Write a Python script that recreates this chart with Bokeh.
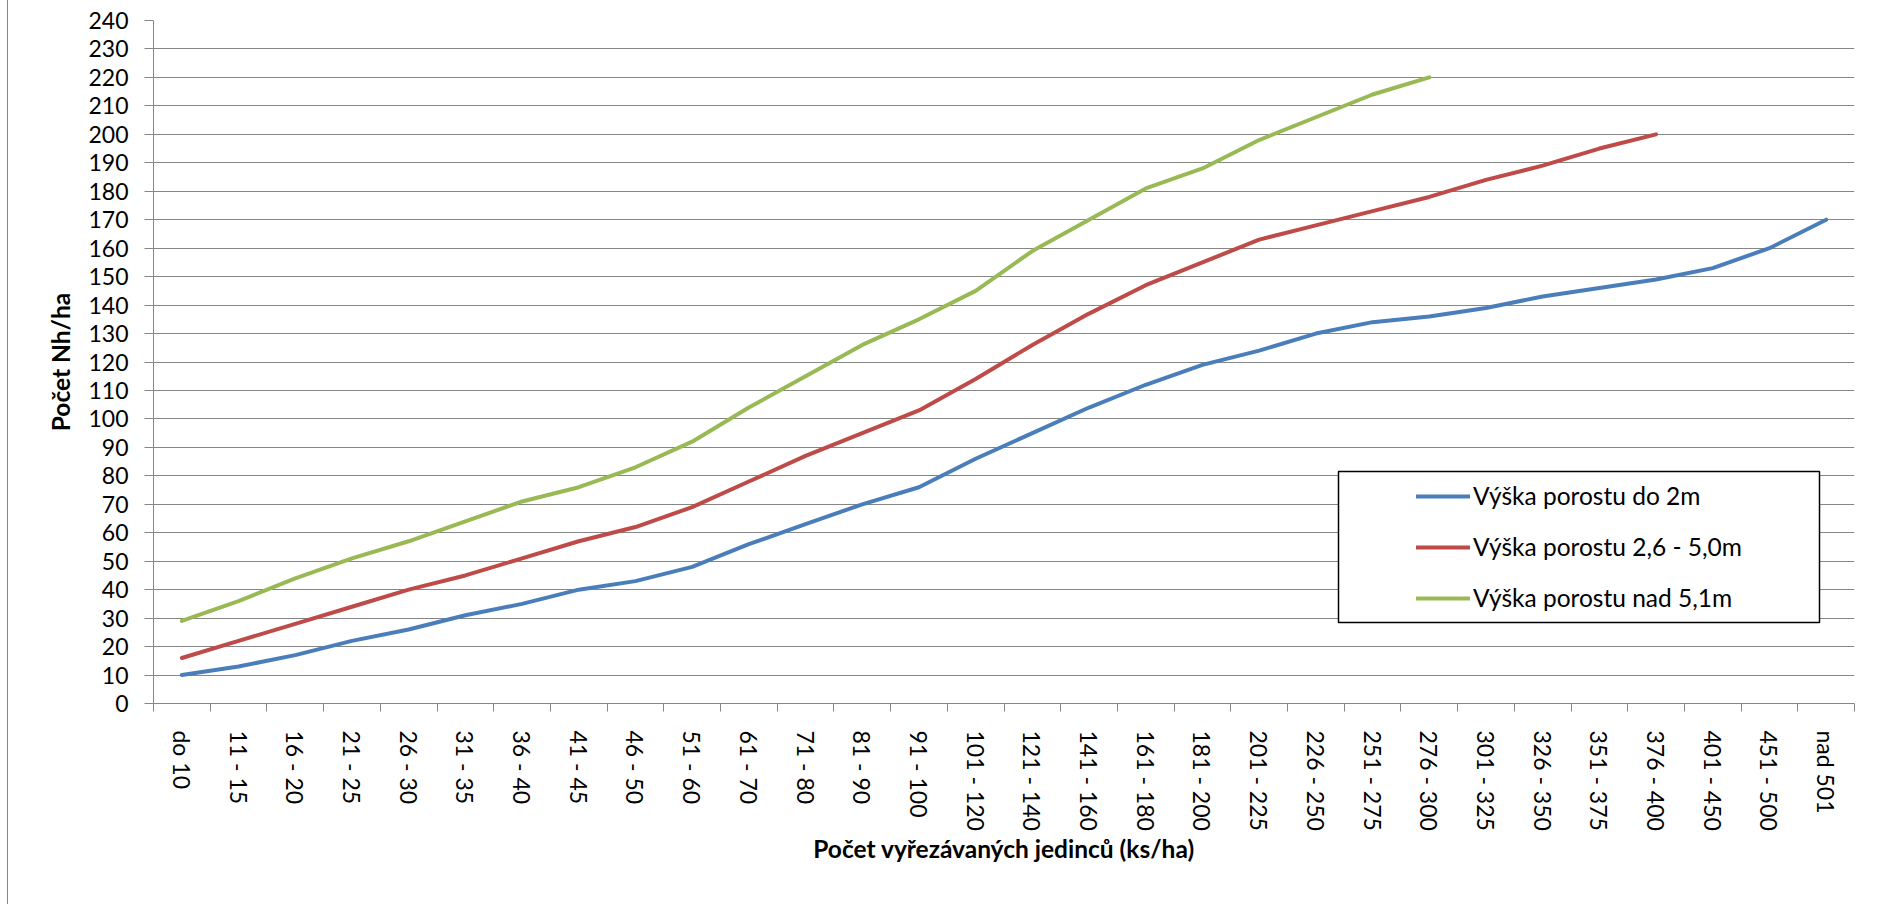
import math

from bokeh.embed import file_html
from bokeh.layouts import row
from bokeh.models import (BoxAnnotation, Div, FixedTicker, Legend, LegendItem,
                          Range1d, Spacer)
from bokeh.plotting import figure
from bokeh.resources import INLINE

# Kategorie počtu vyřezávaných jedinců (ks/ha)
categories = [
    "do 10", "11 - 15", "16 - 20", "21 - 25", "26 - 30", "31 - 35",
    "36 - 40", "41 - 45", "46 - 50", "51 - 60", "61 - 70", "71 - 80",
    "81 - 90", "91 - 100", "101 - 120", "121 - 140", "141 - 160",
    "161 - 180", "181 - 200", "201 - 225", "226 - 250", "251 - 275",
    "276 - 300", "301 - 325", "326 - 350", "351 - 375", "376 - 400",
    "401 - 450", "451 - 500", "nad 501",
]

# Počet Nh/ha podle výšky porostu
vyska_do_2m = [
    10, 13, 17, 22, 26, 31, 35, 40, 43, 48, 56, 63, 70, 76, 86,
    95, 104, 112, 119, 124, 130, 134, 136, 139, 143, 146, 149, 153, 160, 170,
]
vyska_2_6_az_5_0m = [
    16, 22, 28, 34, 40, 45, 51, 57, 62, 69, 78, 87, 95, 103, 114,
    126, 137, 147, 155, 163, 168, 173, 178, 184, 189, 195, 200,
]
vyska_nad_5_1m = [
    29, 36, 44, 51, 57, 64, 71, 76, 83, 92, 104, 115, 126, 135, 145,
    159, 170, 181, 188, 198, 206, 214, 220,
]

series_labels = [
    "Výška porostu do 2m",
    "Výška porostu 2,6 - 5,0m",
    "Výška porostu nad 5,1m",
]
series_colors = ["#4A7EBB", "#BE4B48", "#98B954"]
y_ticks = list(range(0, 241, 10))

GRID = "#868686"
FONT = "Lato"
OFFSET = 8  # šířka levého pruhu s okrajem oblasti grafu

n = len(categories)
centers = [i + 0.5 for i in range(n)]
bounds = list(range(n + 1))

p = figure(
    width=1894 - OFFSET, height=904,
    output_backend="svg", toolbar_location=None,
    x_range=Range1d(0, n), y_range=Range1d(0, 240),
    min_border_left=153 - OFFSET, min_border_right=40,
    min_border_top=20, min_border_bottom=201,
    margin=0,
)
p.outline_line_color = None
p.background_fill_color = "white"
p.border_fill_color = "white"

# vodorovná mřížka
p.xgrid.visible = False
p.ygrid.ticker = FixedTicker(ticks=y_ticks)
p.ygrid.grid_line_color = GRID
p.ygrid.grid_line_width = 1

# osa Y
ya = p.yaxis[0]
ya.ticker = FixedTicker(ticks=y_ticks)
ya.axis_line_color = GRID
ya.major_tick_line_color = GRID
ya.major_tick_out = 9
ya.major_tick_in = 0
ya.minor_tick_out = 0
ya.minor_tick_in = 0
ya.major_label_standoff = 16
ya.major_label_text_font = FONT
ya.major_label_text_font_size = "23px"
ya.major_label_text_color = "black"
ya.axis_label = "Počet Nh/ha"
ya.axis_label_text_font = FONT
ya.axis_label_text_font_style = "bold"
ya.axis_label_text_font_size = "24.5px"
ya.axis_label_text_color = "black"
ya.axis_label_standoff = 10

# osa X: popisky uprostřed kategorií, značky na hranicích
xa = p.xaxis[0]
xa.ticker = FixedTicker(ticks=centers, minor_ticks=bounds)
xa.major_label_overrides = {c: lab for c, lab in zip(centers, categories)}
xa.axis_line_color = GRID
xa.major_tick_out = 0
xa.major_tick_in = 0
xa.minor_tick_line_color = GRID
xa.minor_tick_out = 8
xa.minor_tick_in = 0
xa.major_label_orientation = -math.pi / 2
xa.major_label_standoff = 19
xa.major_label_text_font = FONT
xa.major_label_text_font_size = "23px"
xa.major_label_text_color = "black"
xa.axis_label = "Počet vyřezávaných jedinců (ks/ha)"
xa.axis_label_text_font = FONT
xa.axis_label_text_font_style = "bold"
xa.axis_label_text_font_size = "24.5px"
xa.axis_label_text_color = "black"
xa.axis_label_standoff = 0

renderers = []
for values, color in zip([vyska_do_2m, vyska_2_6_az_5_0m, vyska_nad_5_1m], series_colors):
    r = p.line(centers[:len(values)], values, line_color=color, line_width=4,
               line_join="round", line_cap="round")
    renderers.append(r)

# rámeček legendy
p.add_layout(BoxAnnotation(
    left=1338 - OFFSET, right=1819 - OFFSET, top=471, bottom=622,
    left_units="canvas", right_units="canvas", top_units="canvas", bottom_units="canvas",
    fill_color="white", fill_alpha=1, line_color="black", line_alpha=1, line_width=1.5,
))

legend = Legend(
    items=[LegendItem(label=lab, renderers=[r]) for lab, r in zip(series_labels, renderers)],
    location=(1253, 81),
    padding=10, spacing=22, margin=0,
    glyph_width=54, glyph_height=20, label_height=20, label_standoff=3,
    label_text_font=FONT, label_text_font_size="24.5px", label_text_color="black",
    border_line_alpha=0, background_fill_alpha=0,
)
p.add_layout(legend, "center")

# levý okraj oblasti grafu
gap = Spacer(width=OFFSET - 1, height=904, margin=0)
edge = Div(width=1, height=904, margin=0, styles={"background-color": GRID})

layout = row(gap, edge, p, spacing=0, margin=0)

open("out.html", "w").write(file_html(layout, INLINE))
